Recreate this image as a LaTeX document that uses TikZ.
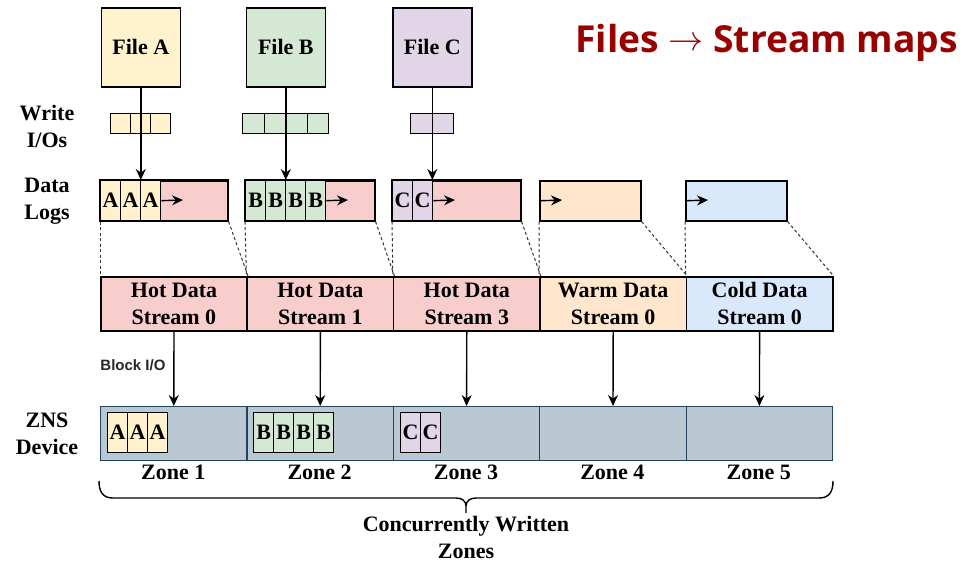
\documentclass[tikz,border=0pt]{standalone}
\usepackage{fontspec}
\usepackage{graphicx}
\setmainfont{Liberation Serif}
\newfontfamily\titlefont{Open Sans}
\newfontfamily\labelsans{Liberation Sans}
\usetikzlibrary{arrows.meta}
\definecolor{cA}{HTML}{FFF2CC}
\definecolor{cB}{HTML}{D5E8D4}
\definecolor{cC}{HTML}{E1D5E7}
\definecolor{cHot}{HTML}{F8CECC}
\definecolor{cWarm}{HTML}{FFE6CC}
\definecolor{cCold}{HTML}{DAE8FC}
\definecolor{cZns}{HTML}{BAC8D3}
\definecolor{cZnsLine}{HTML}{23445D}
\definecolor{titlered}{RGB}{153,0,0}
\begin{document}
\begin{tikzpicture}[x=1pt,y=-1pt,
  lbl/.style={font=\fontsize{22}{27}\selectfont\bfseries, align=center, inner sep=0},
  box/.style={draw, line width=1.6pt, inner sep=0, anchor=north west, lbl},
  wcell/.style={draw, line width=1.3pt, inner sep=0, anchor=north west, minimum height=20, minimum width=20},
  lcell/.style={draw, line width=1.3pt, inner sep=0, anchor=north west, minimum height=40, minimum width=20, lbl},
  logbox/.style={draw, line width=1.6pt, inner sep=0, anchor=north west, minimum height=40},
  stream/.style={box, minimum width=146.4, minimum height=54},
  zone/.style={draw=cZnsLine, fill=cZns, line width=1.2pt, inner sep=0, anchor=north west, minimum width=146.4, minimum height=54},
  arr/.style={line width=1.4pt, -{Stealth[length=11pt,width=10pt]}},
  dsh/.style={line width=1pt, black!80, dash pattern=on 3pt off 2.5pt},
]
\useasboundingbox (0,0) rectangle (968,563);

% title
\node[anchor=base east, inner sep=0, text=titlered, font=\titlefont\bfseries\fontsize{37.2}{40}\selectfont] (title) at (958,52) {Files \raisebox{2pt}{\resizebox{35pt}{!}{\(\rightarrow\)}} Stream maps};

% files
\node[box, fill=cA, minimum width=79, minimum height=79] (fileA) at (100.5,7) {File A};
\node[box, fill=cB, minimum width=79, minimum height=79] (fileB) at (245.5,7) {File B};
\node[box, fill=cC, minimum width=79, minimum height=79] (fileC) at (392,7) {File C};

% left labels
\node[lbl] (lblW) at (47,126) {Write\\I/Os};
\node[lbl] (lblD) at (47,201) {Data\\Logs};
\node[lbl] (lblZ) at (47,434) {ZNS\\Device};

% write I/Os
\node[wcell, fill=cA] (wa1) at (110,113) {};
\node[wcell, fill=cA] (wa2) at (130,113) {};
\node[wcell, fill=cA] (wa3) at (150,113) {};
\node[wcell, fill=cB, minimum width=21.5] (wb1) at (242,113) {};
\node[wcell, fill=cB, minimum width=21.5] (wb2) at (263.5,113) {};
\node[wcell, fill=cB, minimum width=21.5] (wb3) at (285,113) {};
\node[wcell, fill=cB, minimum width=21.5] (wb4) at (306.5,113) {};
\node[wcell, fill=cC, minimum width=21.5] (wc1) at (410,113) {};
\node[wcell, fill=cC, minimum width=21.5] (wc2) at (431.5,113) {};

% data logs
\node[logbox, fill=cHot, minimum width=127] (logA) at (100,180) {};
\node[logbox, fill=cHot, minimum width=129] (logB) at (245,180) {};
\node[logbox, fill=cHot, minimum width=128] (logC) at (392,180) {};
\node[logbox, fill=cWarm, minimum width=101] (logW) at (539,180) {};
\node[logbox, fill=cCold, minimum width=101] (logK) at (685,180) {};

\node[lcell, fill=cA] (la1) at (100,180) {A};
\node[lcell, fill=cA] (la2) at (120,180) {A};
\node[lcell, fill=cA] (la3) at (140,180) {A};
\node[lcell, fill=cB] (lb1) at (245,180) {B};
\node[lcell, fill=cB] (lb2) at (265,180) {B};
\node[lcell, fill=cB] (lb3) at (285,180) {B};
\node[lcell, fill=cB] (lb4) at (305,180) {B};
\node[lcell, fill=cC] (lc1) at (392,180) {C};
\node[lcell, fill=cC] (lc2) at (412,180) {C};

\draw[line width=1.6pt] (logA.north west) rectangle (logA.south east);
\draw[line width=1.6pt] (logB.north west) rectangle (logB.south east);
\draw[line width=1.6pt] (logC.north west) rectangle (logC.south east);

\coordinate (pa) at (183,200);
\coordinate (pb) at (348,200);
\coordinate (pc) at (455,200);
\coordinate (pw) at (562,200);
\coordinate (pk) at (708,200);
\draw[arr] (la3.east) -- (pa);
\draw[arr] (lb4.east) -- (pb);
\draw[arr] (lc2.east) -- (pc);
\draw[arr] (logW.west) -- (pw);
\draw[arr] (logK.west) -- (pk);

% file arrows
\draw[arr] (fileA.south) -- (fileA.south |- logA.north);
\draw[arr] (fileB.south) -- (fileB.south |- logB.north);
\draw[arr] (fileC.south) -- (fileC.south |- logC.north);

% streams
\node[stream, fill=cHot] (s1) at (100,276) {Hot Data\\Stream 0};
\node[stream, fill=cHot] (s2) at (246.4,276) {Hot Data\\Stream 1};
\node[stream, fill=cHot] (s3) at (392.8,276) {Hot Data\\Stream 3};
\node[stream, fill=cWarm] (s4) at (539.2,276) {Warm Data\\Stream 0};
\node[stream, fill=cCold] (s5) at (685.6,276) {Cold Data\\Stream 0};

% dashed mapping lines
\draw[dsh] (logA.south west) -- (s1.north west);
\draw[dsh] (logA.south east) -- (s1.north east);
\draw[dsh] (logB.south west) -- (s2.north west);
\draw[dsh] (logB.south east) -- (s2.north east);
\draw[dsh] (logC.south west) -- (s3.north west);
\draw[dsh] (logC.south east) -- (s3.north east);
\draw[dsh] (logW.south west) -- (s4.north west);
\draw[dsh] (logW.south east) -- (s4.north east);
\draw[dsh] (logK.south west) -- (s5.north west);
\draw[dsh] (logK.south east) -- (s5.north east);

% block I/O label
\node[inner sep=0, font=\labelsans\bfseries\fontsize{15}{18}\selectfont, text=black!85] (blk) at (133,365) {Block I/O};

% zones
\node[zone] (z1) at (100,406) {};
\node[zone] (z2) at (246.4,406) {};
\node[zone] (z3) at (392.8,406) {};
\node[zone] (z4) at (539.2,406) {};
\node[zone] (z5) at (685.6,406) {};

\draw[arr] (s1.south) -- (z1.north);
\draw[arr] (s2.south) -- (z2.north);
\draw[arr] (s3.south) -- (z3.north);
\draw[arr] (s4.south) -- (z4.north);
\draw[arr] (s5.south) -- (z5.north);

% zone cells
\node[lcell, fill=cA] (za1) at (107,412) {A};
\node[lcell, fill=cA] (za2) at (127,412) {A};
\node[lcell, fill=cA] (za3) at (147,412) {A};
\node[lcell, fill=cB] (zb1) at (253,412) {B};
\node[lcell, fill=cB] (zb2) at (273,412) {B};
\node[lcell, fill=cB] (zb3) at (293,412) {B};
\node[lcell, fill=cB] (zb4) at (313,412) {B};
\node[lcell, fill=cC] (zc1) at (400,412) {C};
\node[lcell, fill=cC] (zc2) at (420,412) {C};

% zone labels
\node[lbl] (zl1) at (173.2,472) {Zone 1};
\node[lbl] (zl2) at (319.6,472) {Zone 2};
\node[lbl] (zl3) at (466,472) {Zone 3};
\node[lbl] (zl4) at (612.4,472) {Zone 4};
\node[lbl] (zl5) at (758.8,472) {Zone 5};

% brace
\draw[line width=1.4pt] (99,481) .. controls (99,492) and (103,498) .. (113,498)
  -- (456,498) .. controls (462,498) and (466,501) .. (466,506) -- (466,513)
  -- (466,506) .. controls (466,501) and (470,498) .. (476,498)
  -- (819,498) .. controls (829,498) and (833,492) .. (833,481);
\node[lbl] (conc) at (466,537) {Concurrently Written\\Zones};
\end{tikzpicture}
\end{document}
